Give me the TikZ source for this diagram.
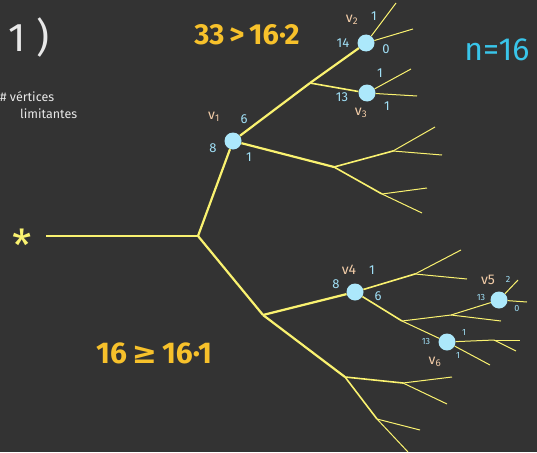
\documentclass[tikz,border=0pt]{standalone}
\usepackage{fontspec}
\setmainfont{Fira Sans}
\newfontfamily\symfont{DejaVu Sans}
\usetikzlibrary{positioning}
\definecolor{bgdark}{RGB}{51,51,51}
\definecolor{edgeyellow}{RGB}{250,242,112}
\definecolor{vtxblue}{RGB}{172,232,251}
\definecolor{numcyan}{RGB}{160,224,247}
\definecolor{namepeach}{RGB}{243,205,168}
\definecolor{chalkorange}{RGB}{247,193,43}
\definecolor{chalkcyan}{RGB}{57,197,234}
\definecolor{chalkwhite}{RGB}{232,232,232}
\newcommand{\fsz}[1]{\fontsize{#1}{#1}\selectfont}
\tikzset{
  vtx/.style={circle,fill=vtxblue,minimum size=17pt,inner sep=0pt},
  edgemain/.style={draw=edgeyellow,line width=2.2pt},
  edgemid/.style={draw=edgeyellow,line width=1.6pt},
  edgeleaf/.style={draw=edgeyellow,line width=1pt},
  vname/.style={text=namepeach,font=\fsz{14},inner sep=0pt},
  wnum/.style={text=numcyan,font=\fsz{13},inner sep=0pt},
  snum/.style={text=numcyan,font=\fsz{9},inner sep=0pt},
}
\begin{document}
\begin{tikzpicture}[x=1pt,y=-1pt]
  \fill[bgdark] (0,0) rectangle (537,452);
  \useasboundingbox (0,0) rectangle (537,452);
  % --- notes ---
  \node[text=chalkwhite,font=\fsz{40}] (title) at (29,38) {1 )};
  \node[text=chalkwhite,font=\fsz{12.5},anchor=west,inner sep=0pt] (note1) at (0,97) {\# vértices};
  \node[text=chalkwhite,font=\fsz{12.5},anchor=west,inner sep=0pt] (note2) at (20,114) {limitantes};
  \node[text=chalkorange,font=\fsz{29}\bfseries] (ineqtop) at (247,35) {33\thinspace>\thinspace16·2};
  \node[text=chalkcyan,font=\fsz{32}] (nval) at (497,50) {n=16};
  \node[text=chalkorange,font=\fsz{30}\bfseries] (ineqbot) at (154,353) {16\thinspace{\symfont ≥}\thinspace16·1};
  % --- root ---
  \node[text=edgeyellow,font=\fsz{44},circle,minimum size=48pt,inner sep=0pt] (root) at (22,236)
    {\raisebox{-0.58em}[0pt][0pt]{*}};
  % --- vertices ---
  \node[vtx] (v1) at (233,141) {};
  \node[vtx] (v2) at (366,43) {};
  \node[vtx] (v3) at (367,93) {};
  \node[vtx] (v4) at (355,292) {};
  \node[vtx] (v5) at (499,300) {};
  \node[vtx] (v6) at (447,342) {};
  % --- branch points ---
  \coordinate (b0) at (198,236);
  \coordinate (b1) at (310,83);
  \coordinate (b2) at (334,167);
  \coordinate (b3) at (393,151);
  \coordinate (b4) at (382,194);
  \coordinate (c0) at (263,315);
  \coordinate (c1) at (415,274);
  \coordinate (c2) at (402,321);
  \coordinate (c3) at (451,315);
  \coordinate (c4) at (494,340);
  \coordinate (c5) at (345,377);
  \coordinate (c6) at (403,383);
  \coordinate (c7) at (377,419);
  % --- leaf ends ---
  \foreach \n/\x/\y in {l2a/396/3, l2b/413/29, l3a/411/69, l3b/417/96,
      lb3a/435/127, lb3b/442/155, lb4a/427/188, lb4b/422/213,
      lc1a/461/250, lc1b/467/279, lc3/501/321, l5a/518/280, l5b/527/302,
      lc4a/520/340, lc4b/516/351, l6/490/365,
      lc6a/452/377, lc6b/447/404, lc7a/420/430, lc7b/408/452}{%
    \coordinate (\n) at (\x,\y);}
  % --- edges ---
  \draw[edgemain] (root) -- (b0);
  \foreach \a/\b in {b0/v1, b0/c0, v1/b1, b1/v2, v1/b2, c0/v4, c0/c5}{%
    \draw[edgemain] (\a) -- (\b);}
  \foreach \a/\b in {b1/v3, b2/b3, b2/b4, v4/c1, v4/c2, c5/c6, c5/c7}{%
    \draw[edgemid] (\a) -- (\b);}
  \foreach \a/\b in {v2/l2a, v2/l2b, v3/l3a, v3/l3b, b3/lb3a, b3/lb3b, b4/lb4a, b4/lb4b,
      c1/lc1a, c1/lc1b, c2/c3, c2/v6, c3/v5, c3/lc3, v5/l5a, v5/l5b,
      v6/c4, c4/lc4a, c4/lc4b, v6/l6, c6/lc6a, c6/lc6b, c7/lc7a, c7/lc7b}{%
    \draw[edgeleaf] (\a) -- (\b);}
  % --- vertex labels ---
  \node[vname] (v1name) at ([shift={(-19,-24)}]v1) {v\textsubscript{1}};
  \node[wnum] at ([shift={(11,-22)}]v1) {6};
  \node[wnum] at ([shift={(-20,7)}]v1) {8};
  \node[wnum] at ([shift={(16,16)}]v1) {1};
  \node[vname] (v2name) at ([shift={(-14,-23)}]v2) {v\textsubscript{2}};
  \node[wnum] at ([shift={(8,-27)}]v2) {1};
  \node[wnum] at ([shift={(-23,0)}]v2) {14};
  \node[wnum] at ([shift={(20,6)}]v2) {0};
  \node[vname] (v3name) at ([shift={(-6,20)}]v3) {v\textsubscript{3}};
  \node[wnum] at ([shift={(13,-20)}]v3) {1};
  \node[wnum] at ([shift={(-25,4)}]v3) {13};
  \node[wnum] at ([shift={(20,13)}]v3) {1};
  \node[vname] (v4name) at ([shift={(-6,-22)}]v4) {v4};
  \node[wnum] at ([shift={(17,-22)}]v4) {1};
  \node[wnum] at ([shift={(-19,-8)}]v4) {8};
  \node[wnum] at ([shift={(23,4)}]v4) {6};
  \node[vname] (v5name) at ([shift={(-11,-20)}]v5) {v5};
  \node[snum] at ([shift={(9,-21)}]v5) {2};
  \node[snum] at ([shift={(-18,-3)}]v5) {13};
  \node[snum] at ([shift={(18,8)}]v5) {0};
  \node[vname] (v6name) at ([shift={(-12,20)}]v6) {v\textsubscript{6}};
  \node[snum] at ([shift={(17,-10)}]v6) {1};
  \node[snum] at ([shift={(-21,-1)}]v6) {13};
  \node[snum] at ([shift={(11,13)}]v6) {1};
\end{tikzpicture}
\end{document}
